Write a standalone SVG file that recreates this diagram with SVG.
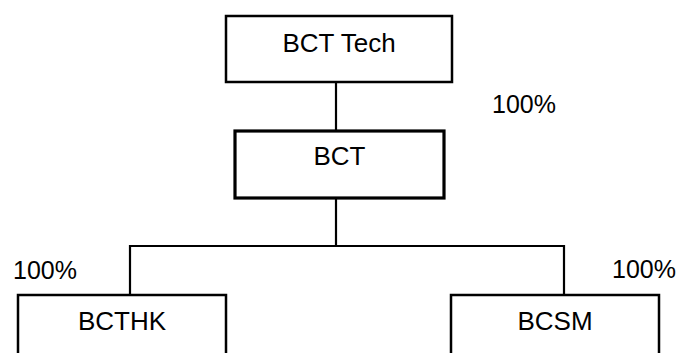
<svg xmlns="http://www.w3.org/2000/svg" width="677" height="353" viewBox="0 0 677 353">
<style>
.box{fill:#fff;stroke:#000;stroke-width:2.5}
.thick{stroke-width:3.2}
.lbl{font-family:"Liberation Sans",Arial,sans-serif;font-size:26px;fill:#000;text-anchor:middle}
.pct{font-family:"Liberation Sans",Arial,sans-serif;font-size:25px;fill:#000}
.conn{stroke:#000;stroke-width:2.2;fill:none}
</style>
<rect width="677" height="353" fill="#fff"/>
<g id="connectors">
<path class="conn" d="M336 82V131"/>
<path class="conn" d="M336 198V246"/>
<path class="conn" d="M130 295V246H564V295"/>
</g>
<g id="bcttech">
<rect class="box" x="226" y="16" width="226" height="66"/>
<text class="lbl" x="339" y="52">BCT Tech</text>
</g>
<g id="bct">
<rect class="box thick" x="235" y="131" width="209" height="67"/>
<text class="lbl" x="339.5" y="165">BCT</text>
</g>
<g id="bcthk">
<rect class="box" x="18" y="295" width="208" height="70"/>
<text class="lbl" x="122" y="330">BCTHK</text>
</g>
<g id="bcsm">
<rect class="box" x="451" y="295" width="208" height="70"/>
<text class="lbl" x="555" y="330">BCSM</text>
</g>
<g id="labels">
<text class="pct" x="492" y="113">100%</text>
<text class="pct" x="13" y="279">100%</text>
<text class="pct" x="612" y="278">100%</text>
</g>
</svg>
